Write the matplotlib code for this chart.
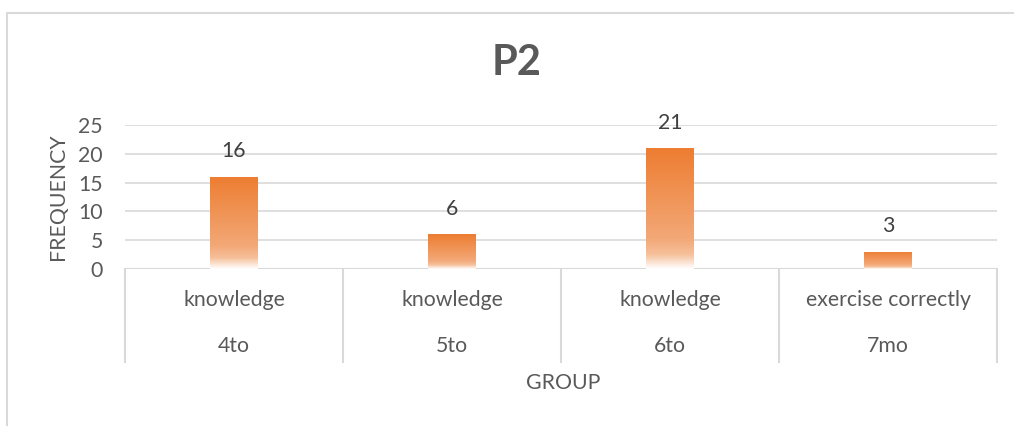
import numpy as np
import matplotlib
matplotlib.use("Agg")
import matplotlib.pyplot as plt
from matplotlib.colors import LinearSegmentedColormap
from matplotlib.lines import Line2D

plt.rcParams['font.family'] = ['Lato', 'DejaVu Sans']

categories_top = ["knowledge", "knowledge", "knowledge", "exercise correctly"]
categories_bottom = ["4to", "5to", "6to", "7mo"]
values = [16, 6, 21, 3]
yticks = [0, 5, 10, 15, 20, 25]

W, H = 1014, 426
fig = plt.figure(figsize=(W / 100, H / 100), dpi=100)
fig.patch.set_facecolor("white")

def fx(px):
    return px / W

def fy(py):
    return 1 - py / H

FS = 15.3
TXT = "#595959"

ax = fig.add_axes([fx(125), fy(269), fx(997) - fx(125), fy(125) - fy(269)])
ax.set_xlim(-0.5, len(values) - 0.5)
ax.set_ylim(0, 25)
for s in ax.spines.values():
    s.set_visible(False)
ax.set_yticks(yticks)
ax.set_yticklabels([str(t) for t in yticks], fontsize=FS, color=TXT)
ax.tick_params(axis="y", length=0, pad=16)
ax.set_xticks([])
ax.yaxis.grid(True, color="#D9D9D9", linewidth=1.2)
ax.set_axisbelow(True)
ax.axhline(0, color="#D9D9D9", linewidth=1.5, zorder=1)

# gradient colormap: orange top -> lighter -> white bottom
cmap = LinearSegmentedColormap.from_list(
    "grad",
    [(0.0, "#FFFFFF"), (0.12, "#F6C09A"), (0.25, "#F3A877"), (1.0, "#ED7D31")],
)
grad = np.linspace(0, 1, 256).reshape(-1, 1)

bars = ax.bar(range(len(values)), values, width=0.22, color="none", edgecolor="none", zorder=2)
for b, v in zip(bars, values):
    x0 = b.get_x()
    x1 = x0 + b.get_width()
    im = ax.imshow(grad, cmap=cmap, aspect="auto", origin="lower",
                   extent=[x0, x1, 0, v], zorder=3, interpolation="bilinear")
    im.set_clip_path(b)
    ax.text(b.get_x() + b.get_width() / 2, v + 4.4, str(v), ha="center", va="center",
            fontsize=FS, color="#404040", zorder=4, clip_on=False)
ax.set_xlim(-0.5, len(values) - 0.5)
ax.set_ylim(0, 25)

fig.text(fx(58), fy(197), "FREQUENCY", rotation=90, ha="center", va="center",
         fontsize=FS, color=TXT)

# category box lines below the axis
for i in range(len(values) + 1):
    xpx = 125 + i * (997 - 125) / len(values)
    fig.add_artist(Line2D([fx(xpx), fx(xpx)], [fy(269), fy(362)], color="#D9D9D9",
                          linewidth=1.5, transform=fig.transFigure))
for i, (t1, t2) in enumerate(zip(categories_top, categories_bottom)):
    xpx = 125 + (i + 0.5) * (997 - 125) / len(values)
    fig.text(fx(xpx), fy(300), t1, ha="center", va="center", fontsize=FS, color=TXT)
    fig.text(fx(xpx), fy(346), t2, ha="center", va="center", fontsize=FS, color=TXT)

fig.text(fx(563), fy(383), "GROUP", ha="center", va="center", fontsize=FS, color=TXT)
fig.text(fx(517), fy(63), "P2", ha="center", va="center", fontsize=30, fontweight="bold",
         color=TXT)

# outer border (left and top)
fig.add_artist(Line2D([fx(7), fx(7), fx(1014)], [fy(426), fy(12.5), fy(12.5)],
                      color="#D9D9D9", linewidth=1.5, transform=fig.transFigure))

fig.savefig("out.png", dpi=100, facecolor="white")
